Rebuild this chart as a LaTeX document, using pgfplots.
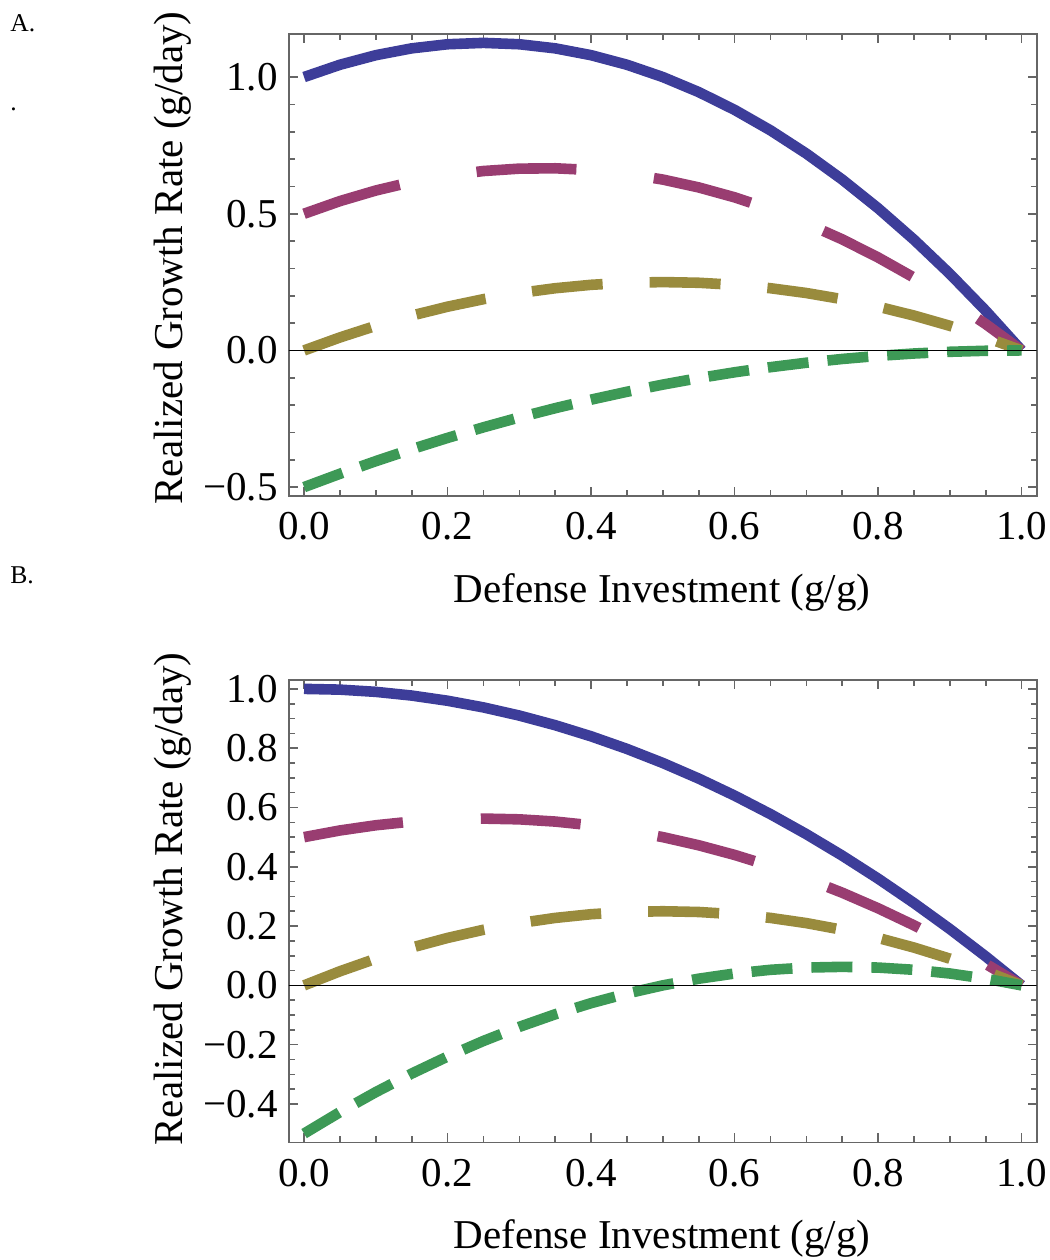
\documentclass[border=0pt]{standalone}
\usepackage{fontspec}
\setmainfont{Liberation Serif}
\usepackage{pgfplots}
\pgfplotsset{compat=1.18}
\definecolor{mblue}{rgb}{0.24,0.24,0.6}
\definecolor{mpurple}{rgb}{0.6,0.24,0.4428}
\definecolor{molive}{rgb}{0.6,0.547,0.24}
\definecolor{mgreen}{rgb}{0.24,0.6,0.33692}
\newcommand{\tfont}{\fontsize{20.5}{24}\selectfont}
\pgfplotsset{
  mframe/.style={
    scale only axis, width=373.85pt,
    axis line style={black!60, line width=0.9pt},
    every tick/.style={black!60, line width=0.8pt},
    tick align=inside,
    major tick length=4.5pt, minor tick length=3pt,
    xmin=-0.021, xmax=1.021,
    xtick={0,0.2,0.4,0.6,0.8,1},
    xticklabels={0.0,0.2,0.4,0.6,0.8,1.0},
    minor x tick num=3,
    xticklabel style={font=\tfont, anchor=base, yshift=-22pt, inner sep=0pt},
    yticklabel style={font=\tfont, anchor=east, xshift=-5.5pt, inner sep=0pt},
    clip=true,
  },
  cblue/.style={mblue, line width=5.3pt, line join=round, line cap=butt},
  cpurple/.style={mpurple, line width=5.3pt, line join=round, line cap=butt, dash pattern=on 50pt off 39pt},
  colive/.style={molive, line width=5.3pt, line join=round, line cap=butt, dash pattern=on 35.5pt off 23.5pt},
  cgreen/.style={mgreen, line width=5.3pt, line join=round, line cap=butt, dash pattern=on 20.5pt off 9.5pt},
}
\begin{document}
\begin{tikzpicture}
\useasboundingbox (0,0) rectangle (525pt,630pt);
% Panel A
\begin{axis}[mframe, at={(144.5pt,382pt)}, anchor=south west, height=231pt,
  ymin=-0.5325, ymax=1.1575,
  ytick={-0.5,0,0.5,1}, yticklabels={−0.5,0.0,0.5,1.0}, minor y tick num=4]
\addplot[cblue] coordinates {(0,1) (0.05,1.045) (0.1,1.08) (0.15,1.105) (0.2,1.12) (0.25,1.125) (0.3,1.12) (0.35,1.105) (0.4,1.08) (0.45,1.045) (0.5,1.0) (0.55,0.945) (0.6,0.88) (0.65,0.805) (0.7,0.72) (0.75,0.625) (0.8,0.52) (0.85,0.405) (0.9,0.28) (0.95,0.145) (1,0)};
\addplot[cpurple] coordinates {(0,0.5) (0.05,0.54625) (0.1,0.585) (0.15,0.61625) (0.2,0.64) (0.25,0.65625) (0.3,0.665) (0.35,0.66625) (0.4,0.66) (0.45,0.64625) (0.5,0.625) (0.55,0.59625) (0.6,0.56) (0.65,0.51625) (0.7,0.465) (0.75,0.40625) (0.8,0.34) (0.85,0.26625) (0.9,0.185) (0.95,0.09625) (1,0)};
\addplot[colive] coordinates {(0,0) (0.05,0.0475) (0.1,0.09) (0.15,0.1275) (0.2,0.16) (0.25,0.1875) (0.3,0.21) (0.35,0.2275) (0.4,0.24) (0.45,0.2475) (0.5,0.25) (0.55,0.2475) (0.6,0.24) (0.65,0.2275) (0.7,0.21) (0.75,0.1875) (0.8,0.16) (0.85,0.1275) (0.9,0.09) (0.95,0.0475) (1,0)};
\addplot[cgreen] coordinates {(0,-0.5) (0.05,-0.45125) (0.1,-0.405) (0.15,-0.36125) (0.2,-0.32) (0.25,-0.28125) (0.3,-0.245) (0.35,-0.21125) (0.4,-0.18) (0.45,-0.15125) (0.5,-0.125) (0.55,-0.10125) (0.6,-0.08) (0.65,-0.06125) (0.7,-0.045) (0.75,-0.03125) (0.8,-0.02) (0.85,-0.01125) (0.9,-0.005) (0.95,-0.00125) (1,0)};
\addplot[black, line width=0.7pt] coordinates {(-0.05,0) (1.05,0)};
\end{axis}
% Panel B
\begin{axis}[mframe, at={(144.5pt,58.75pt)}, anchor=south west, height=231.25pt,
  ymin=-0.53, ymax=1.03,
  ytick={-0.4,-0.2,0,0.2,0.4,0.6,0.8,1}, yticklabels={−0.4,−0.2,0.0,0.2,0.4,0.6,0.8,1.0}, minor y tick num=3]
\addplot[cblue] coordinates {(0,1) (0.05,0.9975) (0.1,0.99) (0.15,0.9775) (0.2,0.96) (0.25,0.9375) (0.3,0.91) (0.35,0.8775) (0.4,0.84) (0.45,0.7975) (0.5,0.75) (0.55,0.6975) (0.6,0.64) (0.65,0.5775) (0.7,0.51) (0.75,0.4375) (0.8,0.36) (0.85,0.2775) (0.9,0.19) (0.95,0.0975) (1,0)};
\addplot[cpurple] coordinates {(0,0.5) (0.05,0.5225) (0.1,0.54) (0.15,0.5525) (0.2,0.56) (0.25,0.5625) (0.3,0.56) (0.35,0.5525) (0.4,0.54) (0.45,0.5225) (0.5,0.5) (0.55,0.4725) (0.6,0.44) (0.65,0.4025) (0.7,0.36) (0.75,0.3125) (0.8,0.26) (0.85,0.2025) (0.9,0.14) (0.95,0.0725) (1,0)};
\addplot[colive] coordinates {(0,0) (0.05,0.0475) (0.1,0.09) (0.15,0.1275) (0.2,0.16) (0.25,0.1875) (0.3,0.21) (0.35,0.2275) (0.4,0.24) (0.45,0.2475) (0.5,0.25) (0.55,0.2475) (0.6,0.24) (0.65,0.2275) (0.7,0.21) (0.75,0.1875) (0.8,0.16) (0.85,0.1275) (0.9,0.09) (0.95,0.0475) (1,0)};
\addplot[cgreen] coordinates {(0,-0.5) (0.05,-0.4275) (0.1,-0.36) (0.15,-0.2975) (0.2,-0.24) (0.25,-0.1875) (0.3,-0.14) (0.35,-0.0975) (0.4,-0.06) (0.45,-0.0275) (0.5,0) (0.55,0.0225) (0.6,0.04) (0.65,0.0525) (0.7,0.06) (0.75,0.0625) (0.8,0.06) (0.85,0.0525) (0.9,0.04) (0.95,0.0225) (1,0)};
\addplot[black, line width=0.7pt] coordinates {(-0.05,0) (1.05,0)};
\end{axis}
% Labels
\node[anchor=base west, inner sep=0pt, font=\fontsize{12.8}{15}\selectfont] at (5pt,614pt) {A.};
\node[anchor=base west, inner sep=0pt, font=\fontsize{12.8}{15}\selectfont] at (5pt,574.5pt) {.};
\node[anchor=base west, inner sep=0pt, font=\fontsize{12.8}{15}\selectfont] at (5pt,338.4pt) {B.};
\node[anchor=base, inner sep=0pt, font=\tfont] at (331pt,328.5pt) {Defense Investment (g/g)};
\node[anchor=base, inner sep=0pt, font=\tfont] at (331pt,5.5pt) {Defense Investment (g/g)};
\node[anchor=base, inner sep=0pt, rotate=90, font=\tfont] at (91pt,501pt) {Realized Growth Rate (g/day)};
\node[anchor=base, inner sep=0pt, rotate=90, font=\tfont] at (91pt,180.5pt) {Realized Growth Rate (g/day)};
\end{tikzpicture}
\end{document}
